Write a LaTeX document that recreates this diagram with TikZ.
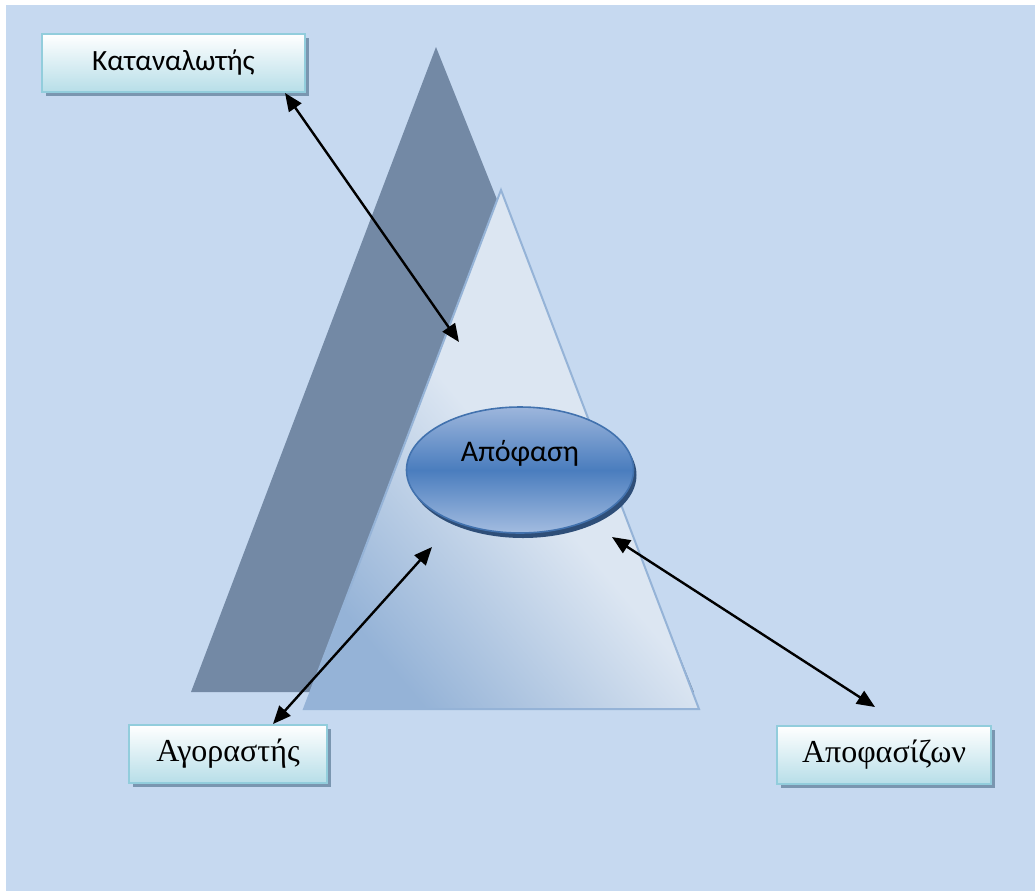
\documentclass[tikz,border=0pt]{standalone}
\usepackage{fontspec}
\setmainfont{Liberation Serif}
\newfontfamily\carlito{Carlito}
\usepackage{xcolor}
\usepackage{tikz}
\usetikzlibrary{arrows.meta,positioning,shapes.geometric,shadows}

\definecolor{bgblue}{HTML}{C6D9F0}
\definecolor{darktri}{HTML}{7389A5}
\definecolor{trilow}{HTML}{95B3D7}
\definecolor{trihigh}{HTML}{DCE6F2}
\definecolor{elltop}{HTML}{9DB6DC}
\definecolor{ellmid}{HTML}{4A7DBE}
\definecolor{ellbot}{HTML}{A3BCE0}
\definecolor{ellline}{HTML}{4272AE}
\definecolor{ellshadow}{HTML}{2E4E78}
\definecolor{boxfill}{HTML}{B7DEE8}
\definecolor{boxline}{HTML}{92CDDC}
\definecolor{boxshadow}{HTML}{7A96B0}

\begin{document}
\begin{tikzpicture}[x=0.5pt, y=-0.5pt,
  role/.style={draw=boxline, line width=1pt, top color=white, bottom color=boxfill,
              minimum height=29pt, inner sep=0pt,
              drop shadow={shadow xshift=2pt, shadow yshift=-2pt, fill=boxshadow, opacity=1}},
  decision/.style={ellipse, draw=ellline, line width=0.8pt, minimum width=113.5pt, minimum height=63pt,
              top color=elltop, bottom color=ellbot, middle color=ellmid,
              drop shadow={shadow xshift=1.5pt, shadow yshift=-2.5pt, fill=ellshadow, opacity=1}},
  darrow/.style={{Triangle[length=9pt,width=7.5pt]}-{Triangle[length=9pt,width=7.5pt]}, line width=1.2pt},
]
\useasboundingbox (0,0) rectangle (1035,891);
\fill[white] (0,0) rectangle (1035,891);
\fill[bgblue] (6,5) rectangle (1035,891);
% the two triangles
\fill[darktri] (436,47) -- (694,692) -- (191,692) -- cycle;
\shade[draw=trilow, line width=1pt, bottom color=trilow, top color=trihigh, middle color=trihigh,
       shading angle=-50] (501,190) -- (699,709) -- (304,709) -- cycle;
% decision
\node[decision] (apo) at (520,470) {};
\node[font=\carlito\fontsize{15}{18}\selectfont] (apotxt) at (520,453) {Απόφαση};
% roles
\node[role, minimum width=131.5pt, font=\carlito\fontsize{14.7}{18}\selectfont] (kat) at (173.5,63) {Καταναλωτής};
\node[role, minimum width=99pt, font=\fontsize{16}{19}\selectfont] (agor) at (228,754) {Αγοραστής};
\node[role, minimum width=107pt, font=\fontsize{16}{19}\selectfont] (apof) at (884,755) {Αποφασίζων};
% free ends of the arrows
\coordinate (katend) at (459,342);
\coordinate (agorend) at (432,547);
\coordinate (apoend) at (612,537);
\coordinate (apofend) at ([xshift=-4.5pt,yshift=9pt]apof.north);
\draw[darrow] ([xshift=-10.5pt]kat.south east) -- (katend);
\draw[darrow] ([xshift=22.5pt]agor.north) -- (agorend);
\draw[darrow] (apoend) -- (apofend);
\end{tikzpicture}
\end{document}
